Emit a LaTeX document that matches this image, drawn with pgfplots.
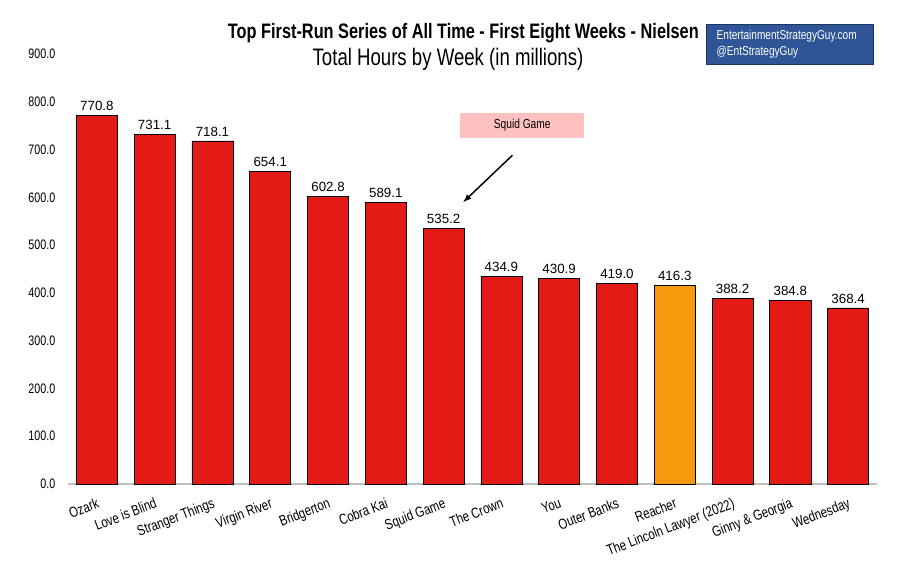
\documentclass[border=0pt]{standalone}
\usepackage{pgfplots}
\pgfplotsset{compat=1.18}
\usepackage{fontspec}
\setmainfont{Liberation Sans}
\newfontfamily\cond[FakeStretch=0.78]{Liberation Sans}
\definecolor{barred}{RGB}{227,26,21}
\definecolor{barorange}{RGB}{245,154,12}
\definecolor{boxblue}{RGB}{47,85,151}
\definecolor{boxpink}{RGB}{255,192,192}
\begin{document}
\begin{tikzpicture}
\useasboundingbox (0,0) rectangle (672.75pt,440.25pt);
\begin{axis}[
  at={(51pt,77.25pt)}, anchor=south west,
  scale only axis, width=606.75pt, height=322.5pt,
  xmin=-0.5, xmax=13.5, ymin=0, ymax=900,
  ytick={0,100,...,900},
  xtick={0,...,13},
  xticklabels={Ozark,Love is Blind,Stranger Things,Virgin River,Bridgerton,Cobra Kai,Squid Game,The Crown,You,Outer Banks,Reacher,The Lincoln Lawyer (2022),Ginny \& Georgia,Wednesday},
  xticklabel style={font=\cond\fontsize{11pt}{13pt}\selectfont, rotate=21, anchor=north east, inner sep=1pt, xshift=-3pt, yshift=-8pt},
  yticklabel style={font=\cond\fontsize{10.3pt}{12pt}\selectfont, xshift=-6pt},
  /pgf/number format/assume math mode=true,
  yticklabel={\pgfmathprintnumber[fixed,fixed zerofill,precision=1]{\tick}},
  major tick length=0pt,
  axis x line*=bottom, axis y line*=left,
  x axis line style={draw=gray!50, line width=0.8pt},
  y axis line style={draw=none},
  clip=false,
  bar width=0.71, bar shift=0pt,
  nodes near coords={\pgfmathprintnumber[fixed,fixed zerofill,precision=1]{\pgfplotspointmeta}},
  nodes near coords style={font=\fontsize{10pt}{12pt}\selectfont, black, yshift=0pt},
  point meta=explicit,
]
\addplot[ybar, fill=barred, draw=black, line width=0.5pt] coordinates {
 (0,770.8) [770.8] (1,731.1) [731.1] (2,718.1) [718.1] (3,654.1) [654.1]
 (4,602.8) [602.8] (5,589.1) [589.1] (6,535.2) [535.2] (7,434.9) [434.9]
 (8,430.9) [430.9] (9,419.0) [419.0] (11,388.2) [388.2] (12,384.8) [384.8]
 (13,368.4) [368.4]};
\addplot[ybar, fill=barorange, draw=black, line width=0.5pt] coordinates {(10,416.3) [416.3]};
\node[fill=boxpink, minimum width=93pt, minimum height=18.75pt, inner sep=0pt, font=\cond\fontsize{9.8pt}{11pt}\selectfont] at (axis cs:7.36,751) {Squid Game};
\draw[-{latex}, line width=1.1pt] (axis cs:7.19,688) -- (axis cs:6.34,590);
\end{axis}
\node[font=\cond\bfseries\fontsize{15.7pt}{17pt}\selectfont] at (347.5pt,415.5pt) {Top First-Run Series of All Time - First Eight Weeks - Nielsen};
\node[font=\cond\fontsize{17.9pt}{19pt}\selectfont] at (336pt,396pt) {Total Hours by Week (in millions)};
\node[fill=boxblue, draw=boxblue!60!black, minimum width=125pt, minimum height=30pt, inner sep=0pt] at (592.1pt,407.25pt) {};
\node[anchor=west, align=left, text=white, font=\cond\fontsize{9.7pt}{12pt}\selectfont] at (534pt,407.25pt) {EntertainmentStrategyGuy.com\\@EntStrategyGuy};
\end{tikzpicture}
\end{document}
